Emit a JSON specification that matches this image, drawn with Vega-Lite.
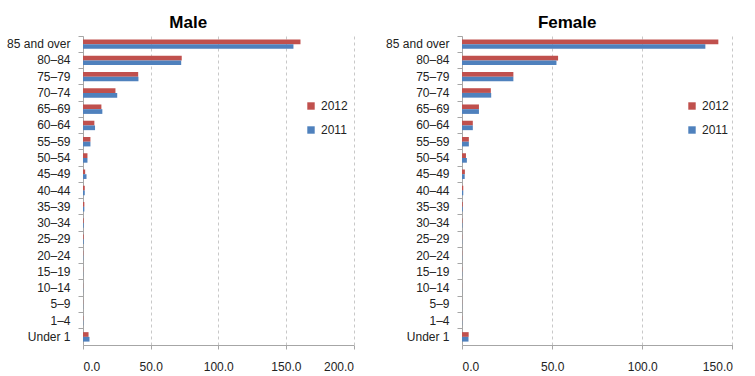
{
  "$schema": "https://vega.github.io/schema/vega-lite/v6.json",
  "padding": {"left": 6, "right": 7, "top": 13, "bottom": 2},
  "bounds": "flush",
  "spacing": 108,
  "background": "white",
  "config": {
    "font": "Liberation Sans",
    "view": {"stroke": null},
    "axis": {"labelFont": "Liberation Sans", "labelFontSize": 12, "labelColor": "#222", "domainColor": "#a6a6a6", "tickColor": "#a6a6a6"},
    "title": {"font": "Liberation Sans", "fontSize": 17, "fontWeight": "bold", "color": "#000", "dx": -30, "offset": 0},
    "legend": {"labelFont": "Liberation Sans", "labelFontSize": 12, "labelColor": "#222"}
  },
  "datasets": {
    "rates": [
      {"sex": "Male", "age": "85 and over", "year": "2012", "value": 160.8},
      {"sex": "Male", "age": "85 and over", "year": "2011", "value": 155.6},
      {"sex": "Male", "age": "80–84", "year": "2012", "value": 73.0},
      {"sex": "Male", "age": "80–84", "year": "2011", "value": 72.6},
      {"sex": "Male", "age": "75–79", "year": "2012", "value": 40.8},
      {"sex": "Male", "age": "75–79", "year": "2011", "value": 41.0},
      {"sex": "Male", "age": "70–74", "year": "2012", "value": 24.0},
      {"sex": "Male", "age": "70–74", "year": "2011", "value": 25.3},
      {"sex": "Male", "age": "65–69", "year": "2012", "value": 13.6},
      {"sex": "Male", "age": "65–69", "year": "2011", "value": 14.3},
      {"sex": "Male", "age": "60–64", "year": "2012", "value": 8.4},
      {"sex": "Male", "age": "60–64", "year": "2011", "value": 8.9},
      {"sex": "Male", "age": "55–59", "year": "2012", "value": 5.5},
      {"sex": "Male", "age": "55–59", "year": "2011", "value": 5.5},
      {"sex": "Male", "age": "50–54", "year": "2012", "value": 3.3},
      {"sex": "Male", "age": "50–54", "year": "2011", "value": 3.3},
      {"sex": "Male", "age": "45–49", "year": "2012", "value": 1.6},
      {"sex": "Male", "age": "45–49", "year": "2011", "value": 2.6},
      {"sex": "Male", "age": "40–44", "year": "2012", "value": 1.3},
      {"sex": "Male", "age": "40–44", "year": "2011", "value": 1.3},
      {"sex": "Male", "age": "35–39", "year": "2012", "value": 1.0},
      {"sex": "Male", "age": "35–39", "year": "2011", "value": 1.0},
      {"sex": "Male", "age": "30–34", "year": "2012", "value": 0.5},
      {"sex": "Male", "age": "30–34", "year": "2011", "value": 0.5},
      {"sex": "Male", "age": "25–29", "year": "2012", "value": 0.5},
      {"sex": "Male", "age": "25–29", "year": "2011", "value": 0.5},
      {"sex": "Male", "age": "20–24", "year": "2012", "value": 0.2},
      {"sex": "Male", "age": "20–24", "year": "2011", "value": 0.2},
      {"sex": "Male", "age": "15–19", "year": "2012", "value": 0.1},
      {"sex": "Male", "age": "15–19", "year": "2011", "value": 0.1},
      {"sex": "Male", "age": "10–14", "year": "2012", "value": 0.1},
      {"sex": "Male", "age": "10–14", "year": "2011", "value": 0.1},
      {"sex": "Male", "age": "5–9", "year": "2012", "value": 0.1},
      {"sex": "Male", "age": "5–9", "year": "2011", "value": 0.1},
      {"sex": "Male", "age": "1–4", "year": "2012", "value": 0.2},
      {"sex": "Male", "age": "1–4", "year": "2011", "value": 0.2},
      {"sex": "Male", "age": "Under 1", "year": "2012", "value": 4.1},
      {"sex": "Male", "age": "Under 1", "year": "2011", "value": 4.8},
      {"sex": "Female", "age": "85 and over", "year": "2012", "value": 142.2},
      {"sex": "Female", "age": "85 and over", "year": "2011", "value": 135.0},
      {"sex": "Female", "age": "80–84", "year": "2012", "value": 53.3},
      {"sex": "Female", "age": "80–84", "year": "2011", "value": 52.4},
      {"sex": "Female", "age": "75–79", "year": "2012", "value": 28.5},
      {"sex": "Female", "age": "75–79", "year": "2011", "value": 28.5},
      {"sex": "Female", "age": "70–74", "year": "2012", "value": 16.0},
      {"sex": "Female", "age": "70–74", "year": "2011", "value": 16.2},
      {"sex": "Female", "age": "65–69", "year": "2012", "value": 9.4},
      {"sex": "Female", "age": "65–69", "year": "2011", "value": 9.4},
      {"sex": "Female", "age": "60–64", "year": "2012", "value": 6.0},
      {"sex": "Female", "age": "60–64", "year": "2011", "value": 6.0},
      {"sex": "Female", "age": "55–59", "year": "2012", "value": 3.8},
      {"sex": "Female", "age": "55–59", "year": "2011", "value": 3.8},
      {"sex": "Female", "age": "50–54", "year": "2012", "value": 2.2},
      {"sex": "Female", "age": "50–54", "year": "2011", "value": 2.7},
      {"sex": "Female", "age": "45–49", "year": "2012", "value": 1.6},
      {"sex": "Female", "age": "45–49", "year": "2011", "value": 1.5},
      {"sex": "Female", "age": "40–44", "year": "2012", "value": 0.7},
      {"sex": "Female", "age": "40–44", "year": "2011", "value": 0.7},
      {"sex": "Female", "age": "35–39", "year": "2012", "value": 0.4},
      {"sex": "Female", "age": "35–39", "year": "2011", "value": 0.4},
      {"sex": "Female", "age": "30–34", "year": "2012", "value": 0.2},
      {"sex": "Female", "age": "30–34", "year": "2011", "value": 0.2},
      {"sex": "Female", "age": "25–29", "year": "2012", "value": 0.1},
      {"sex": "Female", "age": "25–29", "year": "2011", "value": 0.1},
      {"sex": "Female", "age": "20–24", "year": "2012", "value": 0.1},
      {"sex": "Female", "age": "20–24", "year": "2011", "value": 0.1},
      {"sex": "Female", "age": "15–19", "year": "2012", "value": 0.1},
      {"sex": "Female", "age": "15–19", "year": "2011", "value": 0.1},
      {"sex": "Female", "age": "10–14", "year": "2012", "value": 0.05},
      {"sex": "Female", "age": "10–14", "year": "2011", "value": 0.05},
      {"sex": "Female", "age": "5–9", "year": "2012", "value": 0.05},
      {"sex": "Female", "age": "5–9", "year": "2011", "value": 0.05},
      {"sex": "Female", "age": "1–4", "year": "2012", "value": 0.1},
      {"sex": "Female", "age": "1–4", "year": "2011", "value": 0.1},
      {"sex": "Female", "age": "Under 1", "year": "2012", "value": 3.7},
      {"sex": "Female", "age": "Under 1", "year": "2011", "value": 3.6}
    ]
  },
  "resolve": {"scale": {"color": "independent"}, "legend": {"color": "independent"}},
  "hconcat": [
    {
      "title": "Male",
      "width": 270.5,
      "height": 309,
      "data": {"name": "rates"},
      "transform": [{"filter": "datum.sex === 'Male'"}],
      "mark": {"type": "bar"},
      "encoding": {
        "y": {
          "field": "age", "type": "nominal", "title": null,
          "sort": ["85 and over","80–84","75–79","70–74","65–69","60–64","55–59","50–54","45–49","40–44","35–39","30–34","25–29","20–24","15–19","10–14","5–9","1–4","Under 1"],
          "scale": {"paddingInner": 0.42, "paddingOuter": 0.21},
          "axis": {"bandPosition": -0.362, "tickSize": 5, "labelPadding": 8, "grid": false}
        },
        "yOffset": {"field": "year", "type": "nominal", "sort": ["2012", "2011"], "scale": {"paddingInner": 0, "paddingOuter": 0}},
        "x": {
          "field": "value", "type": "quantitative", "title": null,
          "scale": {"domain": [0, 200], "nice": false},
          "axis": {"values": [0, 50, 100, 150, 200], "format": ".1f", "tickSize": 4, "labelPadding": 12, "grid": true, "gridDash": [3, 3], "gridColor": "#c8c8c8"}
        },
        "color": {
          "field": "year", "type": "nominal",
          "scale": {"domain": ["2012", "2011"], "range": ["#C0504D", "#4F81BD"]},
          "legend": {"title": null, "orient": "none", "legendX": 222, "legendY": 64, "symbolType": "square", "symbolSize": 55, "symbolStrokeWidth": 0, "rowPadding": 12, "labelOffset": 4}
        }
      }
    },
    {
      "title": "Female",
      "width": 270.4,
      "height": 309,
      "data": {"name": "rates"},
      "transform": [{"filter": "datum.sex === 'Female'"}],
      "mark": {"type": "bar"},
      "encoding": {
        "y": {
          "field": "age", "type": "nominal", "title": null,
          "sort": ["85 and over","80–84","75–79","70–74","65–69","60–64","55–59","50–54","45–49","40–44","35–39","30–34","25–29","20–24","15–19","10–14","5–9","1–4","Under 1"],
          "scale": {"paddingInner": 0.42, "paddingOuter": 0.21},
          "axis": {"bandPosition": -0.362, "tickSize": 5, "labelPadding": 8, "grid": false}
        },
        "yOffset": {"field": "year", "type": "nominal", "sort": ["2012", "2011"], "scale": {"paddingInner": 0, "paddingOuter": 0}},
        "x": {
          "field": "value", "type": "quantitative", "title": null,
          "scale": {"domain": [0, 150], "nice": false},
          "axis": {"values": [0, 50, 100, 150], "format": ".1f", "tickSize": 4, "labelPadding": 12, "grid": true, "gridDash": [3, 3], "gridColor": "#c8c8c8"}
        },
        "color": {
          "field": "year", "type": "nominal",
          "scale": {"domain": ["2012", "2011"], "range": ["#C0504D", "#4F81BD"]},
          "legend": {"title": null, "orient": "none", "legendX": 224, "legendY": 64, "symbolType": "square", "symbolSize": 55, "symbolStrokeWidth": 0, "rowPadding": 12, "labelOffset": 4}
        }
      }
    }
  ]
}
